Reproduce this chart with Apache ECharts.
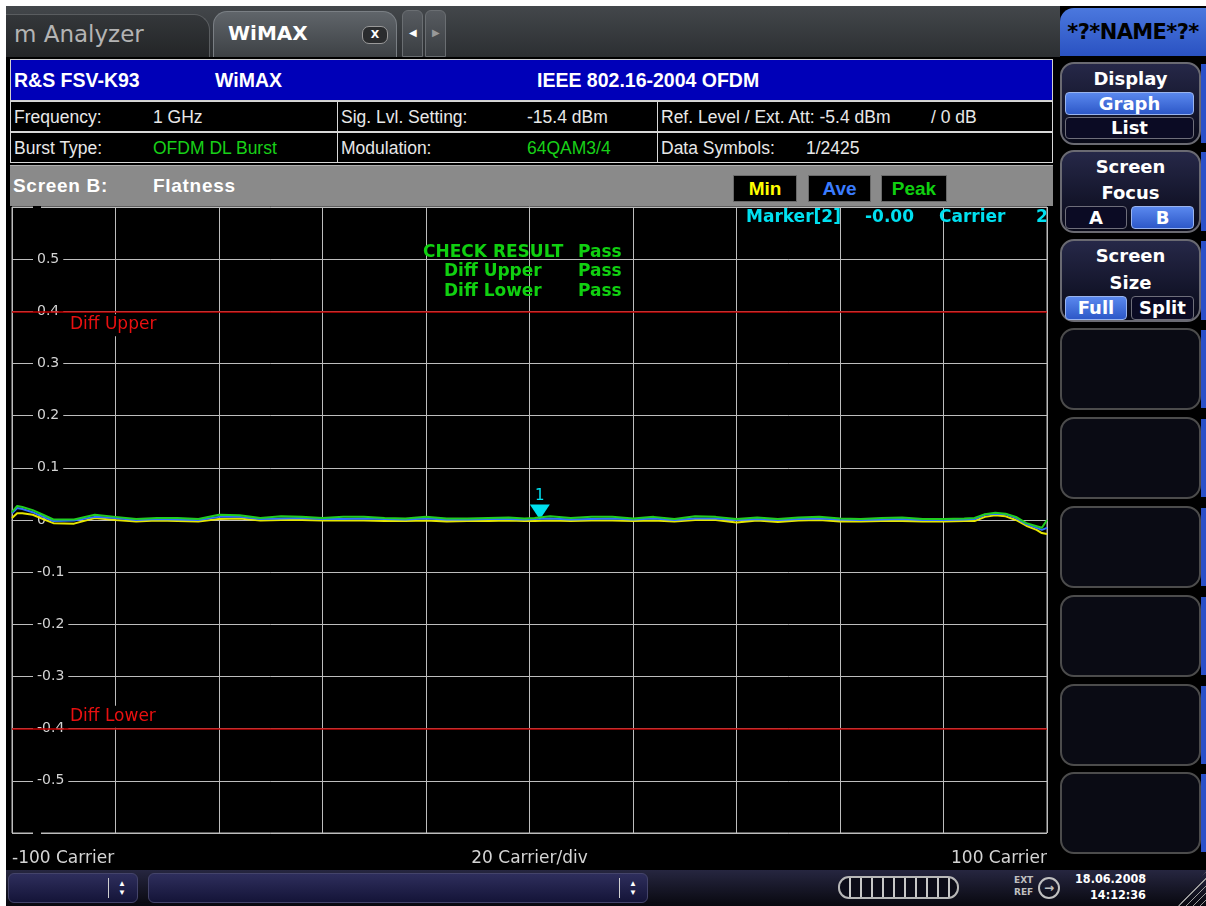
<!DOCTYPE html>
<html><head><meta charset="utf-8">
<script src="https://cdn.jsdelivr.net/npm/echarts@6.0.0/dist/echarts.min.js"></script>
<style>
html,body{margin:0;padding:0;background:#fff;width:1206px;height:906px;overflow:hidden;}
.a{position:absolute;box-sizing:border-box;}
.scr{left:6px;top:6px;width:1200px;height:900px;background:#000;}
.topbar{left:6px;top:6px;width:1054px;height:51px;background:linear-gradient(#43474b,#2c2f32);}
.tab1{left:6px;top:14px;width:204px;height:43px;border-radius:0 16px 0 0;background:linear-gradient(#34373a,#232527);border:1px solid #5a5d60;border-bottom:none;border-left:none;}
.tab1 span{position:absolute;left:8px;top:6px;font:23px "DejaVu Sans",sans-serif;color:#b4b4b4;}
.tab2{left:213px;top:11px;width:184px;height:46px;border-radius:14px 14px 0 0;background:linear-gradient(#60656a,#3d4145);border:1px solid #7a7f84;border-bottom:none;}
.tab2 span{position:absolute;left:14px;top:9px;font:bold 20px "DejaVu Sans",sans-serif;color:#fff;}
.xbtn{left:362px;top:26px;width:26px;height:18px;border-radius:7px;background:#2a2c2e;border:1px solid #9a9a9a;font:bold 11px "DejaVu Sans",sans-serif;color:#fff;text-align:center;line-height:16px;}
.arr{top:10px;width:21px;height:47px;border-radius:6px 6px 0 0;background:linear-gradient(#575b60,#3a3e42);border:1px solid #6a6e72;color:#fff;font-size:10px;text-align:center;line-height:44px;}
.name{left:1060px;top:8px;width:146px;height:48px;border-radius:14px 0 0 0;background:linear-gradient(#4b78de,#2a52c2);font:bold 21px "DejaVu Sans",sans-serif;color:#000;text-align:center;line-height:48px;letter-spacing:-0.6px;}
.hdr{left:10px;top:59px;width:1043px;height:42px;background:#0000b8;border:1px solid #d0d0d0;}
.hdr span{position:absolute;top:9px;font:bold 19.5px "Liberation Sans",Arial,sans-serif;color:#fff;}
.cell{height:31px;border:1px solid #d8d8d8;background:#000;}
.cell span{position:absolute;top:5px;font:17.5px "Liberation Sans",Arial,sans-serif;color:#e8e8e8;white-space:nowrap;}
.g{color:#18d018 !important;}
.sb{left:10px;top:165px;width:1043px;height:41px;background:#8a8a8a;border-top:1px solid #b0b0b0;}
.sb span.t{position:absolute;top:9px;font:bold 19px "Liberation Sans",Arial,sans-serif;color:#fff;letter-spacing:0.7px;}
.tb{top:9px;height:27px;background:#000;border:1px solid #6a6a6a;font:bold 19px "Liberation Sans",Arial,sans-serif;text-align:center;line-height:25px;}
#chart{position:absolute;left:10px;top:206px;width:1043px;height:664px;}
.sk{left:1060px;width:141px;border-radius:14px;border:2px solid #4c4c4c;background:#0a0b14;}
.skt{left:1060px;width:141px;border-radius:14px;border:2px solid #6a6a72;background:linear-gradient(#262848,#080918);}
.strip{left:1201px;width:5px;background:#2a50c8;}
.kt{position:absolute;left:0;width:100%;text-align:center;font:bold 18px "DejaVu Sans",sans-serif;color:#fff;}
.sub{height:23px;border-radius:4px;font:bold 18px "DejaVu Sans",sans-serif;color:#fff;text-align:center;line-height:21px;}
.on{background:linear-gradient(#5a88ee,#2d58c8);border:1px solid #9ab4ee;}
.off{background:#0b0b24;border:1px solid #6e6e7a;}
.bbar{left:6px;top:870px;width:1200px;height:36px;background:linear-gradient(#262640,#08080f);}
.bbox{top:873px;height:30px;border-radius:6px;background:linear-gradient(#2e2e5c,#141438);border:1px solid #44446a;}
.sep{top:878px;width:1px;height:20px;background:#d0d0d0;}
.ud{width:10px;font-size:8px;line-height:9px;color:#fff;text-align:center;}
.bat{left:838px;top:876px;width:121px;height:23px;border:2px solid #b8b8b8;border-radius:11px;background:repeating-linear-gradient(90deg,#0c0c18 0,#0c0c18 9px,#c8c8c8 9px,#c8c8c8 11px);}
.sm{font:bold 9px "DejaVu Sans",sans-serif;color:#c0c0c0;}
.dt{font:bold 12.5px "DejaVu Sans Condensed","DejaVu Sans",sans-serif;color:#fff;}
</style></head>
<body>
<div class="a scr"></div>
<div class="a topbar"></div>
<div class="a tab1"><span>m Analyzer</span></div>
<div class="a tab2"><span>WiMAX</span></div>
<div class="a xbtn">X</div>
<div class="a arr" style="left:402px;">&#9664;</div>
<div class="a arr" style="left:425px;color:#999;">&#9654;</div>
<div class="a name">*?*NAME*?*</div>

<div class="a hdr"><span style="left:3px;">R&amp;S FSV-K93</span><span style="left:204px;">WiMAX</span><span style="left:526px;">IEEE 802.16-2004 OFDM</span></div>
<div class="a cell" style="left:10px;top:101px;width:328px;"><span style="left:3px;">Frequency:</span><span style="left:142px;">1 GHz</span></div>
<div class="a cell" style="left:337px;top:101px;width:321px;"><span style="left:3px;">Sig. Lvl. Setting:</span><span style="left:189px;">-15.4 dBm</span></div>
<div class="a cell" style="left:657px;top:101px;width:396px;"><span style="left:3px;">Ref. Level / Ext. Att: -5.4 dBm</span><span style="left:273px;">/ 0 dB</span></div>
<div class="a cell" style="left:10px;top:132px;width:328px;"><span style="left:3px;">Burst Type:</span><span class="g" style="left:142px;">OFDM DL Burst</span></div>
<div class="a cell" style="left:337px;top:132px;width:321px;"><span style="left:3px;">Modulation:</span><span class="g" style="left:189px;">64QAM3/4</span></div>
<div class="a cell" style="left:657px;top:132px;width:396px;"><span style="left:3px;">Data Symbols:</span><span style="left:148px;">1/2425</span></div>

<div class="a sb"><span class="t" style="left:3px;">Screen B:</span><span class="t" style="left:143px;">Flatness</span>
<div class="a tb" style="left:723px;width:64px;color:#ffff00;">Min</div>
<div class="a tb" style="left:798px;width:63px;color:#3a7cff;">Ave</div>
<div class="a tb" style="left:871px;width:66px;color:#10d010;">Peak</div>
</div>

<div id="chart"></div>

<div class="a skt" style="top:62px;height:83px;"><div class="kt" style="top:4px;">Display</div></div>
<div class="a sub on" style="left:1065px;top:92px;width:129px;">Graph</div>
<div class="a sub off" style="left:1065px;top:117px;width:129px;height:22px;line-height:20px;">List</div>
<div class="a skt" style="top:150px;height:83px;"><div class="kt" style="top:4px;">Screen</div><div class="kt" style="top:30px;">Focus</div></div>
<div class="a sub off" style="left:1065px;top:206px;width:62px;">A</div>
<div class="a sub on" style="left:1131px;top:206px;width:63px;">B</div>
<div class="a skt" style="top:239px;height:83px;"><div class="kt" style="top:4px;">Screen</div><div class="kt" style="top:31px;">Size</div></div>
<div class="a sub on" style="left:1065px;top:296px;width:62px;height:24px;">Full</div>
<div class="a sub off" style="left:1131px;top:296px;width:63px;height:24px;">Split</div>
<div class="a strip" style="top:64px;height:79px;"></div>
<div class="a strip" style="top:152px;height:79px;"></div>
<div class="a strip" style="top:241px;height:79px;"></div>
<div class="a sk" style="top:328px;height:82px;"></div><div class="a strip" style="top:330px;height:78px;"></div>
<div class="a sk" style="top:417px;height:82px;"></div><div class="a strip" style="top:419px;height:78px;"></div>
<div class="a sk" style="top:506px;height:82px;"></div><div class="a strip" style="top:508px;height:78px;"></div>
<div class="a sk" style="top:595px;height:82px;"></div><div class="a strip" style="top:597px;height:78px;"></div>
<div class="a sk" style="top:684px;height:82px;"></div><div class="a strip" style="top:686px;height:78px;"></div>
<div class="a sk" style="top:772px;height:82px;"></div><div class="a strip" style="top:774px;height:78px;"></div>

<div class="a bbar"></div>
<div class="a bbox" style="left:8px;width:130px;"></div>
<div class="a sep" style="left:108px;"></div>
<div class="a ud" style="left:117px;top:879px;">&#9650;<br>&#9660;</div>
<div class="a bbox" style="left:148px;width:500px;"></div>
<div class="a sep" style="left:619px;"></div>
<div class="a ud" style="left:628px;top:879px;">&#9650;<br>&#9660;</div>
<div class="a bat"></div>
<div class="a sm" style="left:1014px;top:875px;">EXT</div>
<div class="a sm" style="left:1014px;top:887px;">REF</div>
<div class="a" style="left:1038px;top:877px;width:22px;height:22px;border:2px solid #c0c0c0;border-radius:50%;color:#c0c0c0;font:bold 12px 'DejaVu Sans';text-align:center;line-height:18px;">&#8594;</div>
<div class="a dt" style="left:1075px;top:871px;">18.06.2008</div>
<div class="a dt" style="left:1090px;top:887px;">14:12:36</div>
<div class="a" style="left:1178px;top:872px;width:28px;height:34px;background:repeating-linear-gradient(135deg,transparent 0,transparent 4px,#9a9a9a 4px,#9a9a9a 5px);clip-path:polygon(100% 0,100% 100%,0 100%);"></div>

<script>
// Carrier positions (x axis, carriers)
const carriers = [-100,-99,-98,-96,-94,-92,-88,-84,-80,-76,-72,-68,-64,-60,-56,-52,-48,-44,-40,-36,-32,-28,-24,-20,-16,-12,-8,-4,-1,1,4,8,12,16,20,24,28,32,36,40,44,48,52,56,60,64,68,72,76,80,84,86,88,90,92,94,96,98,99,100];
// Flatness traces (dB difference)
const minTrace = [0.004,0.013,0.013,0.010,0.002,-0.006,
  -0.007,0.004,0.000,-0.003,-0.001,-0.002,-0.003,0.002,0.003,-0.001,0.000,0.000,-0.001,-0.001,-0.001,-0.002,-0.002,-0.001,-0.003,-0.002,-0.002,-0.001,
  -0.002,-0.002,
  -0.001,-0.002,-0.001,-0.001,-0.002,-0.001,-0.003,0.000,0.000,-0.005,-0.001,-0.004,-0.001,0.000,-0.003,-0.003,-0.002,-0.002,-0.003,-0.003,-0.002,
  -0.002,0.006,0.009,0.007,0.000,-0.011,-0.019,-0.025,-0.027];
const aveTrace = [0.013,0.023,0.021,0.015,0.006,-0.002,
  -0.001,0.006,0.004,0.000,0.002,0.001,0.000,0.006,0.006,0.002,0.003,0.004,0.002,0.002,0.003,0.002,0.001,0.003,0.001,0.001,0.002,0.002,
  0.001,0.002,
  0.003,0.001,0.002,0.003,0.001,0.003,0.000,0.003,0.003,0.000,0.002,0.000,0.002,0.003,0.001,0.000,0.001,0.002,0.000,0.000,0.001,
  0.002,0.010,0.012,0.011,0.004,-0.008,-0.015,-0.019,-0.015];
const peakTrace = [0.015,0.027,0.025,0.019,0.010,0.001,
  0.001,0.010,0.006,0.002,0.004,0.004,0.002,0.010,0.009,0.004,0.007,0.006,0.004,0.006,0.006,0.004,0.003,0.006,0.003,0.003,0.004,0.005,
  0.003,0.004,
  0.007,0.004,0.006,0.006,0.003,0.006,0.002,0.007,0.006,0.002,0.005,0.002,0.005,0.006,0.003,0.002,0.004,0.005,0.002,0.002,0.003,
  0.004,0.011,0.014,0.012,0.006,-0.006,-0.012,-0.015,0.000];
// Limit lines
const limitUpper = 0.4;
const limitLower = -0.4;
// Marker
const markerCarrier = 2;
const markerValue = -0.00;
// Check results
const checkRows = [['CHECK RESULT','Pass'],['Diff Upper','Pass'],['Diff Lower','Pass']];

const pairs = arr => carriers.map((c, i) => [c, arr[i]]);
const gridCol = '#bdbdbd';
const chart = echarts.init(document.getElementById('chart'), null, {renderer: 'canvas'});

const txt = (x, y, text, color) => ({
  type: 'text', left: x, top: y, z: 10, silent: true,
  style: {text: text, fill: color, font: 'bold 17px "DejaVu Sans", sans-serif'}
});

const graphics = [];
checkRows.forEach((r, i) => {
  const y = 38 + i * 19.5;
  graphics.push(txt(i === 0 ? 413 : 434, y, r[0], '#10d010'));
  graphics.push(txt(568, y, r[1], '#10d010'));
});
graphics.push(txt(736, 3, 'Marker[2]', '#00e0f0'));
graphics.push(txt(855, 3, markerValue.toFixed(2).replace(/^0/, '-0'), '#00e0f0'));
graphics.push(txt(929, 3, 'Carrier', '#00e0f0'));
graphics.push(txt(1026, 3, String(markerCarrier), '#00e0f0'));

chart.setOption({
  animation: false,
  backgroundColor: '#000',
  grid: {left: 2, right: 6, top: 1, bottom: 37, show: true, borderColor: gridCol, borderWidth: 1, outerBoundsMode: 'none'},
  xAxis: {
    type: 'value', min: -100, max: 100, interval: 20,
    axisLine: {show: true, lineStyle: {color: gridCol}},
    axisTick: {show: false},
    splitLine: {show: true, lineStyle: {color: gridCol, width: 1}},
    axisLabel: {
      show: true, color: '#d4d4d4', fontSize: 17, fontFamily: '"DejaVu Sans", sans-serif', margin: 17,
      showMinLabel: true, showMaxLabel: true, alignMinLabel: 'left', alignMaxLabel: 'right',
      formatter: v => v === -100 ? '-100 Carrier' : (v === 100 ? '100 Carrier' : '')
    },
    name: '20 Carrier/div', nameLocation: 'middle', nameGap: 17, nameMoveOverlap: false,
    nameTextStyle: {color: '#d4d4d4', fontSize: 17, fontFamily: '"DejaVu Sans", sans-serif'}
  },
  yAxis: {
    type: 'value', min: -0.6, max: 0.6, interval: 0.1,
    axisLine: {show: true, lineStyle: {color: gridCol}},
    axisTick: {show: false},
    splitLine: {show: true, lineStyle: {color: gridCol, width: 1}},
    axisLabel: {
      inside: true, margin: 21, color: '#d4d4d4', fontSize: 14, fontFamily: '"DejaVu Sans", sans-serif',
      backgroundColor: '#000', padding: [1, 4, 1, 4],
      formatter: v => Math.abs(v) > 0.55 ? '' : String(Math.round(v * 10) / 10)
    }
  },
  graphic: graphics,
  series: [
    {
      name: 'Min', type: 'line', data: pairs(minTrace), symbol: 'none', z: 3,
      lineStyle: {color: '#e6e600', width: 2}, itemStyle: {color: '#e6e600'},
      markLine: {
        silent: true, symbol: 'none',
        lineStyle: {color: '#c40000', width: 1.5, type: 'solid'},
        data: [
          {yAxis: limitUpper, name: 'Diff Upper', label: {position: 'insideStartBottom', distance: [55, 3]}},
          {yAxis: limitLower, name: 'Diff Lower', label: {position: 'insideStartTop', distance: [55, 1]}}
        ],
        label: {show: true, formatter: '{b}', color: '#e81010', fontSize: 17, fontFamily: '"DejaVu Sans", sans-serif',
          backgroundColor: '#000', padding: [2, 3, 3, 3]}
      }
    },
    {
      name: 'Ave', type: 'line', data: pairs(aveTrace), symbol: 'none', z: 4,
      lineStyle: {color: '#2f72ff', width: 2}, itemStyle: {color: '#2f72ff'},
      markPoint: {
        silent: true,
        symbol: 'path://M0,0 L20,0 L10,15 Z', symbolSize: [20, 15], symbolOffset: [0, -8],
        itemStyle: {color: '#00e0f0'},
        label: {show: true, position: 'top', distance: 1, formatter: '1', color: '#00e0f0', fontSize: 15, fontFamily: '"DejaVu Sans", sans-serif'},
        data: [{coord: [markerCarrier, markerValue]}]
      }
    },
    {
      name: 'Peak', type: 'line', data: pairs(peakTrace), symbol: 'none', z: 5,
      lineStyle: {color: '#20cc20', width: 2}, itemStyle: {color: '#20cc20'}
    }
  ]
});
</script>
</body></html>
